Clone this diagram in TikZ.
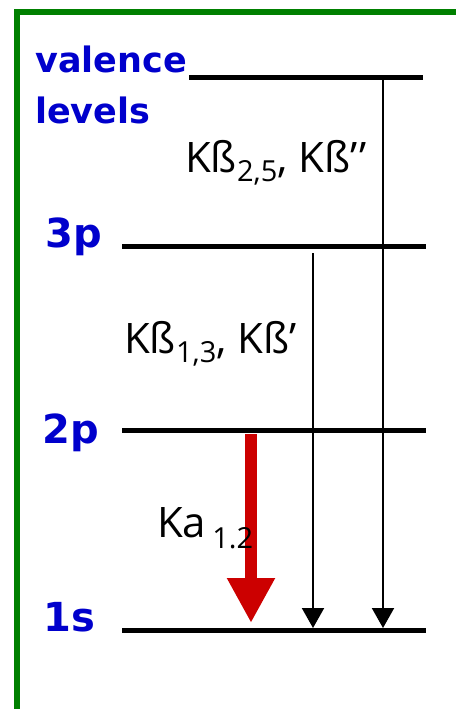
\documentclass[tikz,border=0pt]{standalone}
\usepackage{fontspec}
\setmainfont{Open Sans}
\newfontfamily\lvlfont{DejaVu Sans}
\usetikzlibrary{arrows.meta}
\definecolor{lvlblue}{RGB}{0,0,204}
\definecolor{framegreen}{RGB}{0,128,0}
\definecolor{kared}{RGB}{204,0,0}
\newcommand{\sublow}[2]{\raisebox{-#1pt}{\fontsize{29}{29}\selectfont #2}}

\begin{document}
\begin{tikzpicture}[x=1pt,y=-1pt,
    level/.style={line width=5pt},
    lvllabel/.style={anchor=base west,inner sep=0pt,text=lvlblue,font=\lvlfont\bfseries\fontsize{40}{40}\selectfont},
    translabel/.style={anchor=base west,inner sep=0pt,font=\fontsize{42}{42}\selectfont},
    trans/.style={line width=2pt,-{Triangle[width=22pt,length=20pt]}},
    kalpha/.style={line width=12pt,kared,-{Triangle[width=45pt,length=45pt]}}]
\useasboundingbox (0,0) rectangle (456,709);
% frame
\draw[framegreen,line width=5.5pt] (17,709)--(17,12)--(456,12);

% levels
\draw[level] (189,77)--(423,77);
\foreach \y in {246,430,630}
{
    \draw[level] (122,\y)--(426,\y);
}
\node[lvllabel,font=\lvlfont\bfseries\fontsize{35}{35}\selectfont] (valence) at (35,73) {valence};
\node[lvllabel,font=\lvlfont\bfseries\fontsize{35}{35}\selectfont] (levels) at (35,123) {levels};
\node[lvllabel] (p3) at (45,247) {3p};
\node[lvllabel] (p2) at (42,443) {2p};
\node[lvllabel] (s1) at (43,631) {1s};

% transitions
\coordinate (kbeta25top) at (383,79);
\coordinate (kbeta25end) at (383,628);
\coordinate (kbeta13top) at (313,253);
\coordinate (kbeta13end) at (313,628);
\coordinate (kalphatop) at (251,434);
\coordinate (kalphaend) at (251,623);
\draw[trans] (kbeta25top)--(kbeta25end);
\draw[trans] (kbeta13top)--(kbeta13end);
\draw[kalpha] (kalphatop)--(kalphaend);

\node[translabel] (kb25) at (185,172) {Kß\sublow{9}{2,5}, Kß’\kern2pt’};
\node[translabel] (kb13) at (124,353) {Kß\sublow{9}{1,3}, Kß’};
\node[translabel] (ka12) at (157,537) {Ka\kern6pt\sublow{11}{1.2}};
\end{tikzpicture}
\end{document}
